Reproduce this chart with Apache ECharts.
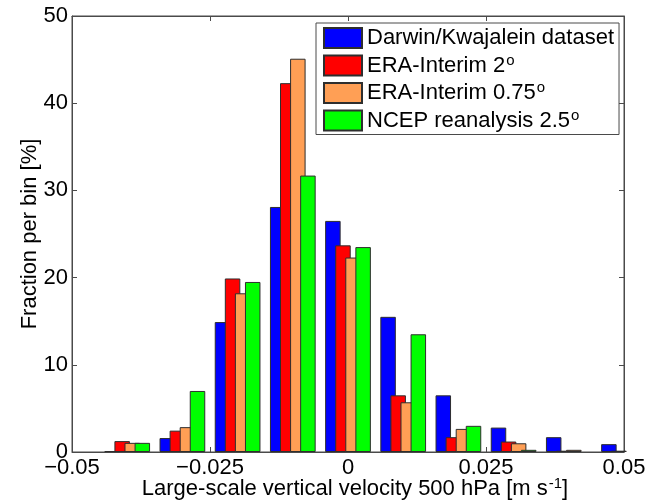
<!DOCTYPE html>
<html>
<head>
<meta charset="utf-8">
<script src="https://cdn.jsdelivr.net/npm/echarts@6/dist/echarts.min.js"></script>
<style>
  html, body { margin: 0; padding: 0; background: #fff; }
  #chart { width: 656px; height: 504px; }
</style>
</head>
<body>
<div id="chart"></div>
<script>
// bin centres (m/s) and fraction per bin (%), null = empty bin
const binCenters = [-0.04, -0.03, -0.02, -0.01, 0, 0.01, 0.02, 0.03, 0.04, 0.05];
const darwin      = [0.1, 1.6, 14.9, 28.1, 26.5, 15.5, 6.5, 2.8, 1.7, 0.9];
const era2        = [1.25, 2.45, 19.9, 42.3, 23.7, 6.5, 1.7, 1.2, 0.15, 0.15];
const era075      = [1.05, 2.85, 18.2, 45.1, 22.3, 5.7, 2.65, 1.0, 0.25, null];
const ncep        = [1.05, 7.0, 19.5, 31.7, 23.5, 13.5, 3.0, 0.25, null, null];
const seriesNames = ['Darwin/Kwajalein dataset', 'ERA-Interim 2', 'ERA-Interim 0.75', 'NCEP reanalysis 2.5'];
const seriesSup   = ['', 'o', 'o', 'o'];
const seriesColors = ['#0000ff', '#ff0000', '#ff9f55', '#00ff00'];

const font = 'Liberation Sans, Arial, sans-serif';
const frame = '#4a4a4a';

function pairs(vals) {
  return binCenters.map((x, i) => [x, vals[i] == null ? '-' : vals[i]]);
}

const chart = echarts.init(document.getElementById('chart'));

const seriesData = [darwin, era2, era075, ncep];
const series = seriesData.map((vals, i) => ({
  name: seriesNames[i],
  type: 'bar',
  data: pairs(vals),
  barWidth: 15.5,
  barGap: '-35%',
  clip: true,
  itemStyle: { color: seriesColors[i], borderColor: '#2e2e2e', borderWidth: 1 }
}));

function supRich(size, supSize, lift) {
  return {
    a: { fontFamily: font, fontSize: size, color: '#000' },
    sup: { fontFamily: font, fontSize: supSize, color: '#000', padding: [0, 0, lift, 1] }
  };
}

const hiddenAxis = {
  axisLine: { show: true, onZero: false, lineStyle: { color: frame, width: 1 } },
  axisTick: { show: true, inside: true, length: 5, lineStyle: { color: frame } },
  axisLabel: { show: false },
  splitLine: { show: false }
};

chart.setOption({
  animation: false,
  backgroundColor: '#fff',
  grid: {
    left: 72, top: 16, right: 32, bottom: 52,
    outerBoundsMode: 'none',
    containLabel: false,
    show: true, borderColor: frame, borderWidth: 1, backgroundColor: 'transparent'
  },
  legend: {
    orient: 'vertical',
    left: 316,
    top: 23,
    padding: [4, 5, 3, 7],
    icon: 'rect',
    itemWidth: 38,
    itemHeight: 20,
    itemGap: 4,
    backgroundColor: '#fff',
    borderColor: frame,
    borderWidth: 1,
    data: seriesNames,
    formatter: name => {
      const i = seriesNames.indexOf(name);
      return '{a|' + name + '}' + (seriesSup[i] ? '{sup|' + seriesSup[i] + '}' : '');
    },
    textStyle: { fontFamily: font, fontSize: 22, color: '#000', rich: supRich(22, 15, 10) }
  },
  xAxis: [{
    type: 'value',
    min: -0.05,
    max: 0.05,
    interval: 0.025,
    name: '{a|Large-scale vertical velocity 500 hPa [m s}{sup|-1}{a|]}',
    nameLocation: 'middle',
    nameGap: 24,
    nameMoveOverlap: false,
    nameTextStyle: { rich: supRich(22, 15, 10), padding: [0, 0, 0, 14] },
    axisLine: { show: true, onZero: false, lineStyle: { color: frame, width: 1 } },
    axisTick: { show: true, inside: true, length: 5, lineStyle: { color: frame } },
    axisLabel: {
      margin: 5,
      fontFamily: font,
      fontSize: 22,
      color: '#000',
      formatter: v => String(+v.toFixed(3)).replace('-', '\u2212')
    },
    splitLine: { show: false }
  }, Object.assign({
    type: 'value', position: 'top', min: -0.05, max: 0.05, interval: 0.025
  }, hiddenAxis)],
  yAxis: [{
    type: 'value',
    min: 0,
    max: 50,
    interval: 10,
    name: 'Fraction per bin [%]',
    nameLocation: 'middle',
    nameGap: 31,
    nameMoveOverlap: false,
    nameTextStyle: { fontFamily: font, fontSize: 22, color: '#000' },
    axisLine: { show: true, onZero: false, lineStyle: { color: frame, width: 1 } },
    axisTick: { show: true, inside: true, length: 5, lineStyle: { color: frame } },
    axisLabel: { margin: 4, fontFamily: font, fontSize: 22, color: '#000' },
    splitLine: { show: false }
  }, Object.assign({
    type: 'value', position: 'right', min: 0, max: 50, interval: 10
  }, hiddenAxis)],
  series: series
});
</script>
</body>
</html>
